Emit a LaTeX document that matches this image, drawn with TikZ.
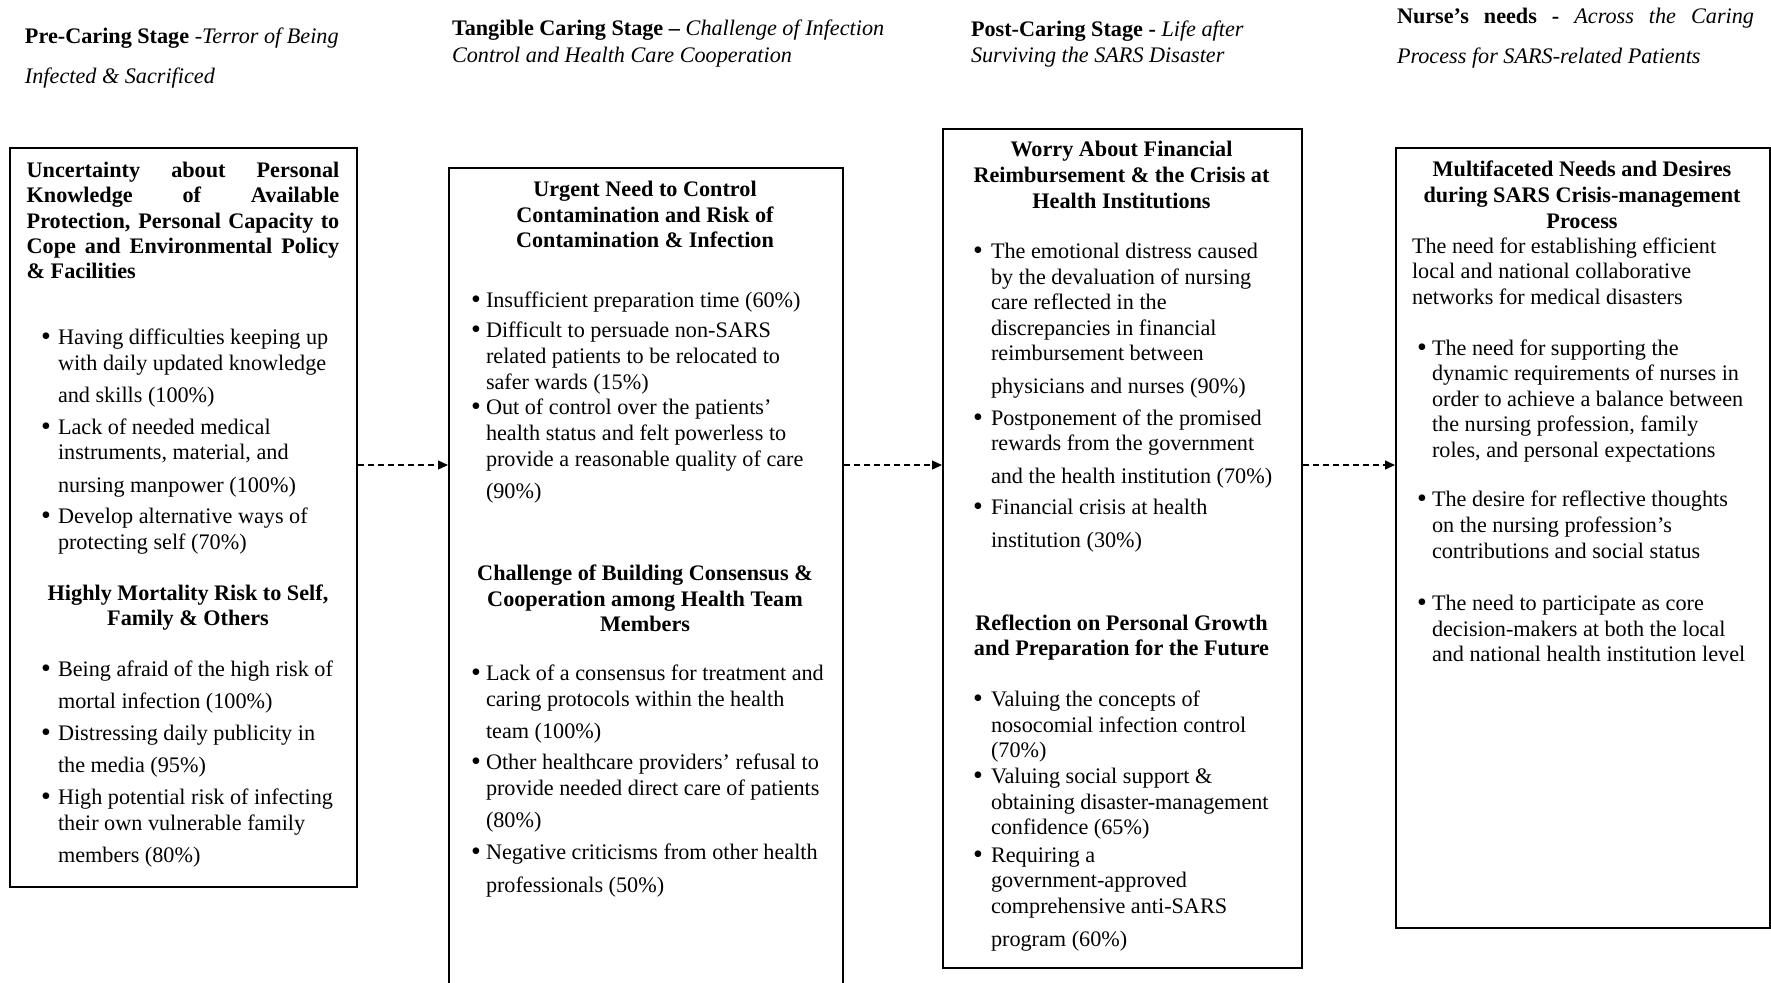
\documentclass[tikz,border=0pt]{standalone}
\usepackage{fontspec}
\setmainfont{Liberation Serif}
\usetikzlibrary{arrows.meta}
\newcounter{lnc}
\newcommand{\txtline}[3]{\stepcounter{lnc}\node[txt,anchor=base west] (t\arabic{lnc}) at (#1,#2) {#3};}
\newcommand{\ctrline}[3]{\stepcounter{lnc}\node[txt,anchor=base] (t\arabic{lnc}) at (#1,#2) {\bfseries #3};}
\newcommand{\bulline}[4]{\stepcounter{lnc}\node[txt,anchor=base west] (t\arabic{lnc}) at (#1,#3) {\raisebox{-0.5pt}{\fontsize{14pt}{14pt}\selectfont\textbullet}};%
 \stepcounter{lnc}\node[txt,anchor=base west] (t\arabic{lnc}) at (#2,#3) {#4};}
\tikzset{
  txt/.style={inner sep=0pt, outer sep=0pt, font=\fontsize{11.1pt}{13pt}\selectfont},
  box/.style={draw, line width=1pt, rectangle, inner sep=0pt, anchor=north west},
  conn/.style={line width=0.6pt, dash pattern=on 3pt off 2pt, -{Triangle[length=5pt,width=4.5pt]}}
}
\begin{document}
\begin{tikzpicture}[x=0.5pt,y=-0.5pt]
\fill[white] (0,0) rectangle (1771,982);
\useasboundingbox (0,0) rectangle (1771,982);

% boxes
\node[box, minimum width=173.5pt, minimum height=369.5pt] (b1) at (9,147) {};
\node[box, minimum width=197pt, minimum height=420pt] (b2) at (448,167) {};
\node[box, minimum width=179.5pt, minimum height=419.5pt] (b3) at (942,128) {};
\node[box, minimum width=187pt, minimum height=390pt] (b4) at (1395,147) {};

% connectors
\coordinate (ay) at (0,465);
\draw[conn] (b1.east |- ay) -- (b2.west |- ay);
\draw[conn] (b2.east |- ay) -- (b3.west |- ay);
\draw[conn] (b3.east |- ay) -- (b4.west |- ay);

% stage headers
\txtline{25}{43}{\textbf{Pre-Caring Stage} \textit{-Terror of Being}}
\txtline{25}{83}{\textit{Infected \& Sacrificed}}
\txtline{452}{35}{\textbf{Tangible Caring Stage –} \textit{Challenge of Infection}}
\txtline{452}{62}{\textit{Control and Health Care Cooperation}}
\txtline{971}{36}{\textbf{Post-Caring Stage -} \textit{Life after}}
\txtline{971}{62}{\textit{Surviving the SARS Disaster}}
\txtline{1397}{23}{\makebox[178.5pt][s]{\textbf{Nurse’s needs -} \textit{Across the Caring}}}
\txtline{1397}{63}{\textit{Process for SARS-related Patients}}

% box 1
\txtline{26.7}{177}{\bfseries\makebox[156.3pt][s]{Uncertainty about Personal}}
\txtline{26.7}{202}{\bfseries\makebox[156.3pt][s]{Knowledge of Available}}
\txtline{26.7}{228}{\bfseries\makebox[156.3pt][s]{Protection, Personal Capacity to}}
\txtline{26.7}{253}{\bfseries\makebox[156.3pt][s]{Cope and Environmental Policy}}
\txtline{26.7}{278}{\bfseries \& Facilities}
\bulline{41}{58}{344}{Having difficulties keeping up}
\txtline{58}{370}{with daily updated knowledge}
\txtline{58}{402}{and skills (100\%)}
\bulline{41}{58}{434}{Lack of needed medical}
\txtline{58}{459.5}{instruments, material, and}
\txtline{58}{492}{nursing manpower (100\%)}
\bulline{41}{58}{523.5}{Develop alternative ways of}
\txtline{58}{549.5}{protecting self (70\%)}
\ctrline{188}{600}{Highly Mortality Risk to Self,}
\ctrline{188}{625}{Family \& Others}
\bulline{41}{58}{676}{Being afraid of the high risk of}
\txtline{58}{708}{mortal infection (100\%)}
\bulline{41}{58}{740}{Distressing daily publicity in}
\txtline{58}{772}{the media (95\%)}
\bulline{41}{58}{804}{High potential risk of infecting}
\txtline{58}{830}{their own vulnerable family}
\txtline{58}{862}{members (80\%)}

% box 2
\ctrline{645}{196.5}{Urgent Need to Control}
\ctrline{645}{222.5}{Contamination and Risk of}
\ctrline{645}{247.5}{Contamination \& Infection}
\bulline{471}{486}{307}{Insufficient preparation time (60\%)}
\bulline{471}{486}{337.5}{Difficult to persuade non-SARS}
\txtline{486}{363.5}{related patients to be relocated to}
\txtline{486}{389}{safer wards (15\%)}
\bulline{471}{486}{414.5}{Out of control over the patients’}
\txtline{486}{440}{health status and felt powerless to}
\txtline{486}{466}{provide a reasonable quality of care}
\txtline{486}{498}{(90\%)}
\ctrline{645}{580}{Challenge of Building Consensus \&}
\ctrline{645}{606}{Cooperation among Health Team}
\ctrline{645}{631.5}{Members}
\bulline{471}{486}{680}{Lack of a consensus for treatment and}
\txtline{486}{706}{caring protocols within the health}
\txtline{486}{738.5}{team (100\%)}
\bulline{471}{486}{769.5}{Other healthcare providers’ refusal to}
\txtline{486}{795.5}{provide needed direct care of patients}
\txtline{486}{827.5}{(80\%)}
\bulline{471}{486}{859}{Negative criticisms from other health}
\txtline{486}{892}{professionals (50\%)}

% box 3
\ctrline{1121.5}{156}{Worry About Financial}
\ctrline{1121.5}{182.5}{Reimbursement \& the Crisis at}
\ctrline{1121.5}{208}{Health Institutions}
\bulline{973}{991}{258}{The emotional distress caused}
\txtline{991}{284}{by the devaluation of nursing}
\txtline{991}{309.5}{care reflected in the}
\txtline{991}{335}{discrepancies in financial}
\txtline{991}{360.5}{reimbursement between}
\txtline{991}{393}{physicians and nurses (90\%)}
\bulline{973}{991}{425}{Postponement of the promised}
\txtline{991}{450.5}{rewards from the government}
\txtline{991}{483}{and the health institution (70\%)}
\bulline{973}{991}{514}{Financial crisis at health}
\txtline{991}{547}{institution (30\%)}
\ctrline{1121.5}{630}{Reflection on Personal Growth}
\ctrline{1121.5}{655}{and Preparation for the Future}
\bulline{973}{991}{706.5}{Valuing the concepts of}
\txtline{991}{732}{nosocomial infection control}
\txtline{991}{757.5}{(70\%)}
\bulline{973}{991}{783.5}{Valuing social support \&}
\txtline{991}{809}{obtaining disaster-management}
\txtline{991}{834.5}{confidence (65\%)}
\bulline{973}{991}{862}{Requiring a}
\txtline{991}{887.5}{government-approved}
\txtline{991}{913}{comprehensive anti-SARS}
\txtline{991}{946.5}{program (60\%)}

% box 4
\ctrline{1582}{176.5}{Multifaceted Needs and Desires}
\ctrline{1582}{202.5}{during SARS Crisis-management}
\ctrline{1582}{228}{Process}
\txtline{1412}{253.5}{The need for establishing efficient}
\txtline{1412}{278.5}{local and national collaborative}
\txtline{1412}{304}{networks for medical disasters}
\bulline{1417}{1432}{355}{The need for supporting the}
\txtline{1432}{380.5}{dynamic requirements of nurses in}
\txtline{1432}{406}{order to achieve a balance between}
\txtline{1432}{431}{the nursing profession, family}
\txtline{1432}{457}{roles, and personal expectations}
\bulline{1417}{1432}{506}{The desire for reflective thoughts}
\txtline{1432}{532}{on the nursing profession’s}
\txtline{1432}{558}{contributions and social status}
\bulline{1417}{1432}{610.5}{The need to participate as core}
\txtline{1432}{636.5}{decision-makers at both the local}
\txtline{1432}{661.5}{and national health institution level}
\end{tikzpicture}
\end{document}
